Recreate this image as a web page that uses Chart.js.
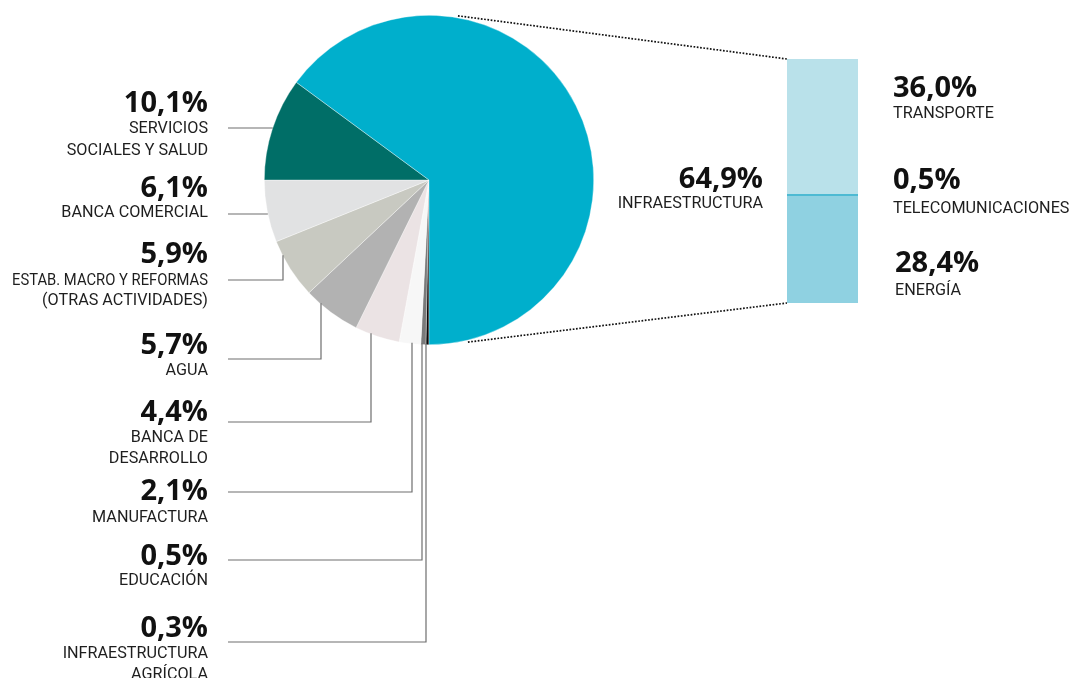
<!DOCTYPE html>
<html lang="es">
<head>
<meta charset="utf-8">
<title>Distribución por sector</title>
<script src="https://cdn.jsdelivr.net/npm/chart.js@4.4.1/dist/chart.umd.min.js"></script>
<style>
  html, body { margin: 0; padding: 0; background: #fff; }
  #wrap { position: relative; width: 1072px; height: 678px; overflow: hidden; }
  #pieChart { position: absolute; left: 0; top: 0; }
  #infraChart { position: absolute; left: 787px; top: 59px; }
</style>
</head>
<body>
<div id="wrap">
  <canvas id="pieChart" width="1072" height="678"></canvas>
  <canvas id="infraChart" width="71" height="244"></canvas>
</div>
<script>
// ─── Data ────────────────────────────────────────────────────────────────────

// pie slices, clockwise from 6 o'clock
const sectorLabels = [
  ['INFRAESTRUCTURA', 'AGRÍCOLA'],
  ['EDUCACIÓN'],
  ['MANUFACTURA'],
  ['BANCA DE', 'DESARROLLO'],
  ['AGUA'],
  ['ESTAB. MACRO Y REFORMAS', '(OTRAS ACTIVIDADES)'],
  ['BANCA COMERCIAL'],
  ['SERVICIOS', 'SOCIALES Y SALUD'],
  ['INFRAESTRUCTURA'],
];
const sectorValues = [0.3, 0.5, 2.1, 4.4, 5.7, 5.9, 6.1, 10.1, 64.9];

// infrastructure breakdown, bottom to top
const infraLabels = ['ENERGÍA', 'TELECOMUNICACIONES', 'TRANSPORTE'];
const infraValues = [28.4, 0.5, 36.0];

// ─── Styles / layout ─────────────────────────────────────────────────────────

const sectorColors = [
  '#0a0a0a', '#7a7a7a', '#f7f7f7', '#ebe3e4', '#b2b2b2',
  '#c8c9c1', '#e1e2e3', '#006e67', '#00afcc'
];
const infraColors = ['#8fd1e1', '#4dbad3', '#b9e1ea'];

const BAR_BOX = { left: 787, top: 59, width: 71, height: 244 };

const LEFT_TEXT_X = 208;
const LEFT_TEXT_MAX = 196;
const LEADER_START_X = 228;
// per slice (same order as sectorLabels), text baselines and leader geometry
const leftLayout = [
  { pctY: 637, lineY: [658, 679], leaderY: 642, leaderX: 426 },
  { pctY: 565, lineY: [585], leaderY: 560, leaderX: 422 },
  { pctY: 500, lineY: [522], leaderY: 492, leaderX: 412 },
  { pctY: 421, lineY: [442, 463], leaderY: 422, leaderX: 371 },
  { pctY: 354, lineY: [375], leaderY: 359, leaderX: 321 },
  { pctY: 263, lineY: [285, 305], leaderY: 280, leaderX: 283 },
  { pctY: 197, lineY: [217], leaderY: 214 },
  { pctY: 112, lineY: [133, 155], leaderY: 128 },
];
const infraTextLayout = { x: 763, pctY: 188, lineY: [208] };
const rightLayout = [
  { x: 895, pctY: 272, lineY: 295 },
  { x: 893, pctY: 189, lineY: 213 },
  { x: 893, pctY: 97, lineY: 118 },
];

const PCT_FONT = '700 29px "Open Sans", "Noto Sans", sans-serif';
const LBL_FONT = '400 16.2px Roboto, "Noto Sans", sans-serif';

// ─── Utils ───────────────────────────────────────────────────────────────────

function pctText(v) {
  return v.toFixed(1).replace('.', ',') + '%';
}

function drawLabel(ctx, x, align, pctY, lines, lineYs, value, maxW) {
  ctx.textAlign = align;
  ctx.textBaseline = 'alphabetic';
  ctx.fillStyle = '#111';
  ctx.font = PCT_FONT;
  ctx.fillText(pctText(value), x, pctY);
  ctx.fillStyle = '#1e1e1e';
  ctx.font = LBL_FONT;
  lines.forEach((t, i) => {
    if (maxW) ctx.fillText(t, x, lineYs[i], maxW);
    else ctx.fillText(t, x, lineYs[i]);
  });
}

// ─── Annotation plugin ───────────────────────────────────────────────────────

const annotations = {
  id: 'annotations',
  afterDraw(chart) {
    const ctx = chart.ctx;
    const arc = chart.getDatasetMeta(0).data[0];
    const cx = arc.x, cy = arc.y, r = arc.outerRadius;

    ctx.save();

    // leaders from left labels to slices
    ctx.strokeStyle = '#6e6e6e';
    ctx.lineWidth = 1.2;
    leftLayout.forEach(l => {
      ctx.beginPath();
      if (l.leaderX === undefined) {
        const xEdge = cx - Math.sqrt(r * r - (l.leaderY - cy) ** 2);
        ctx.moveTo(LEADER_START_X, l.leaderY);
        ctx.lineTo(xEdge, l.leaderY);
      } else {
        const yEdge = cy + Math.sqrt(r * r - (l.leaderX - cx) ** 2);
        ctx.moveTo(LEADER_START_X, l.leaderY);
        ctx.lineTo(l.leaderX, l.leaderY);
        ctx.lineTo(l.leaderX, yEdge - 1);
      }
      ctx.stroke();
    });

    // dotted zoom lines from pie to the breakdown bar
    ctx.strokeStyle = '#111';
    ctx.lineWidth = 1.7;
    ctx.setLineDash([1.7, 1.6]);
    const a1 = 10 * Math.PI / 180, a2 = 166.5 * Math.PI / 180, rr = r + 2;
    ctx.beginPath();
    ctx.moveTo(cx + rr * Math.sin(a1), cy - rr * Math.cos(a1));
    ctx.lineTo(BAR_BOX.left, BAR_BOX.top);
    ctx.moveTo(cx + rr * Math.sin(a2), cy - rr * Math.cos(a2));
    ctx.lineTo(BAR_BOX.left, BAR_BOX.top + BAR_BOX.height);
    ctx.stroke();
    ctx.setLineDash([]);

    // texts
    leftLayout.forEach((l, i) => {
      drawLabel(ctx, LEFT_TEXT_X, 'right', l.pctY, sectorLabels[i], l.lineY,
        sectorValues[i], LEFT_TEXT_MAX);
    });
    const last = sectorValues.length - 1;
    drawLabel(ctx, infraTextLayout.x, 'right', infraTextLayout.pctY,
      sectorLabels[last], infraTextLayout.lineY, sectorValues[last]);
    rightLayout.forEach((l, i) => {
      drawLabel(ctx, l.x, 'left', l.pctY, [infraLabels[i]], [l.lineY], infraValues[i]);
    });

    ctx.restore();
  }
};

// ─── Charts ──────────────────────────────────────────────────────────────────

new Chart(document.getElementById('pieChart'), {
  type: 'pie',
  data: {
    labels: sectorLabels,
    datasets: [{
      data: sectorValues,
      backgroundColor: sectorColors,
      borderColor: 'rgba(255,255,255,0.6)',
      borderWidth: 0.6,
    }]
  },
  options: {
    responsive: false,
    animation: false,
    rotation: 180,
    layout: { padding: { left: 264, top: 15, right: 478, bottom: 333 } },
    plugins: {
      legend: { display: false },
      tooltip: { enabled: false },
    },
  },
  plugins: [annotations],
});

const infraTotal = infraValues.reduce((s, v) => s + v, 0);

new Chart(document.getElementById('infraChart'), {
  type: 'bar',
  data: {
    labels: ['INFRAESTRUCTURA'],
    datasets: infraLabels.map((l, i) => ({
      label: l,
      data: [infraValues[i]],
      backgroundColor: infraColors[i],
      borderWidth: 0,
      barPercentage: 1,
      categoryPercentage: 1,
    })),
  },
  options: {
    responsive: false,
    animation: false,
    layout: { padding: 0 },
    scales: {
      x: { stacked: true, display: false },
      y: { stacked: true, display: false, min: 0, max: infraTotal },
    },
    plugins: {
      legend: { display: false },
      tooltip: { enabled: false },
    },
  },
});
</script>
</body>
</html>
